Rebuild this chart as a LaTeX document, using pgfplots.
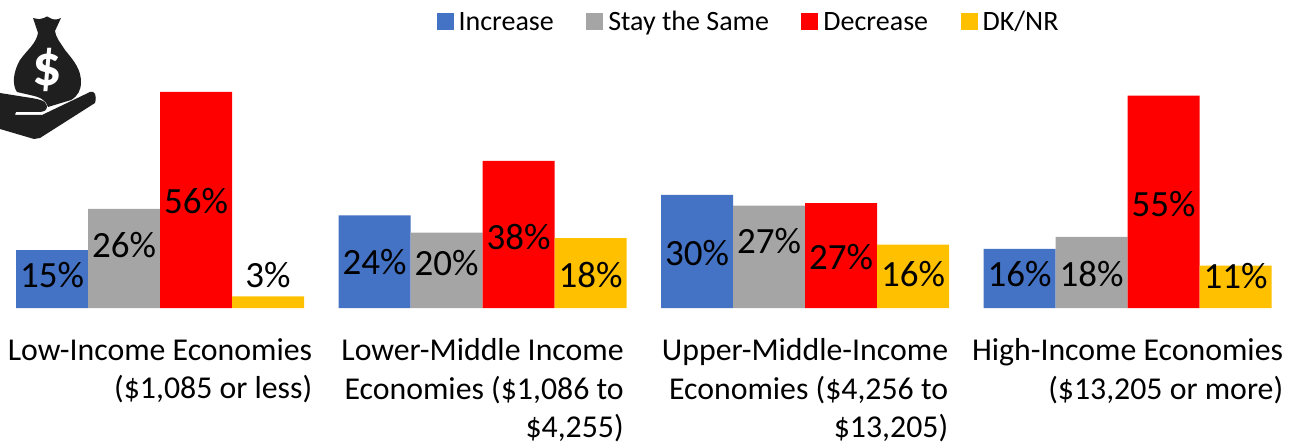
\documentclass[border=0pt]{standalone}
\usepackage{pgfplots}
\usepackage{pgfplotstable}
\usepackage{fontspec}
\setmainfont{Carlito}
\pgfplotsset{compat=1.18}
\definecolor{cInc}{HTML}{4472C4}
\definecolor{cSame}{HTML}{A5A5A5}
\definecolor{cDec}{HTML}{FF0000}
\definecolor{cDk}{HTML}{FFC000}
\pgfplotstableread{
x y off lab
0 15.0 -25 15
1 24.0 -47 24
2 29.3 -58 30
3 15.3 -25 16
}\tInc
\pgfplotstableread{
x y off lab
0 25.7 -36 26
1 19.5 -30 20
2 26.5 -35 27
3 18.4 -37 18
}\tSame
\pgfplotstableread{
x y off lab
0 56.0 -109 56
1 38.1 -76 38
2 27.2 -54 27
3 55.0 -108 55
}\tDec
\pgfplotstableread{
x y off lab
0 3.0 21 3
1 18.1 -37 18
2 16.4 -29 16
3 11.0 -10 11
}\tDk
\begin{document}
\begin{tikzpicture}
\useasboundingbox (0,-136bp) rectangle (1296bp,308bp);
\begin{axis}[
  at={(0,0)},anchor=south west,
  scale only axis,width=1296bp,height=308bp,
  xmin=-0.4962,xmax=3.5224,ymin=0,ymax=79.8,
  clip=false,
  ybar=0pt,bar width=72bp,
  axis line style={draw=none},
  major tick length=0pt,
  ytick=\empty,
  xtick={0,1,2,3},
  xticklabels={{Low-Income Economies\\(\$1,085 or less)},
    {Lower-Middle Income\\Economies (\$1,086 to\\\$4,255)},
    {Upper-Middle-Income\\Economies (\$4,256 to\\\$13,205)},
    {High-Income Economies\\(\$13,205 or more)}},
  xticklabel style={align=right,anchor=north,yshift=-27bp,
    font=\fontsize{31.8bp}{38.5bp}\selectfont},
  point meta=explicit,
  visualization depends on={\thisrow{off} \as \off},
  nodes near coords={\pgfmathprintnumber[fixed,precision=0,assume math mode=true]{\pgfplotspointmeta}\%},
  every node near coord/.append style={anchor=center,yshift=\off bp,text=black,
    font=\fontsize{37bp}{40bp}\selectfont,inner sep=0pt},
  legend style={draw=none,fill=none,at={(748.5bp,286bp)},anchor=center,
    legend columns=4,font=\fontsize{28bp}{30bp}\selectfont,
    /tikz/every odd column/.append style={column sep=3bp},
    /tikz/every even column/.append style={column sep=30.5bp},
    inner sep=0pt},
  legend image code/.code={\fill[#1,draw=none] (0,-8bp) rectangle (17bp,9bp);},
]
\addplot[fill=cInc,draw=none] table[x=x,y=y,meta=lab] {\tInc};
\addplot[fill=cSame,draw=none] table[x=x,y=y,meta=lab] {\tSame};
\addplot[fill=cDec,draw=none] table[x=x,y=y,meta=lab] {\tDec};
\addplot[fill=cDk,draw=none] table[x=x,y=y,meta=lab] {\tDk};
\legend{Increase,Stay the Same,Decrease,DK/NR}
\end{axis}
\begin{scope}[x=1bp,y=-1bp,yshift=308bp]
\fill[black!88] (33,18) .. controls (38,19) and (41,20) .. (44,18) .. controls (46,16) and (48,16) .. (50,18) .. controls (53,20) and (57,20) .. (61,18)
 -- (55,31) .. controls (56,38) and (60,42) .. (65,50) .. controls (75,62) and (81,70) .. (81,82) .. controls (81,90) and (78,96) .. (71,100)
 -- (48,107) .. controls (46,100) and (40,97) .. (30,95) -- (17,92) .. controls (12,85) and (13,72) .. (20,60) .. controls (27,50) and (36,44) .. (38,33) -- cycle;
\fill[black!88] (0,93) -- (25,97) .. controls (38,99) and (46,100) .. (47,106) .. controls (47,110) and (45,112) .. (38,112) -- (16,112) -- (15,115) -- (42,115) -- (90,92) .. controls (95,90) and (97,96) .. (95,103) -- (40,138) -- (34,139) -- (0,129) -- cycle;
\node[text=white,font=\bfseries\fontsize{58bp}{58bp}\selectfont,inner sep=0pt] at (47,70) {\$};
\end{scope}
\end{tikzpicture}
\end{document}
